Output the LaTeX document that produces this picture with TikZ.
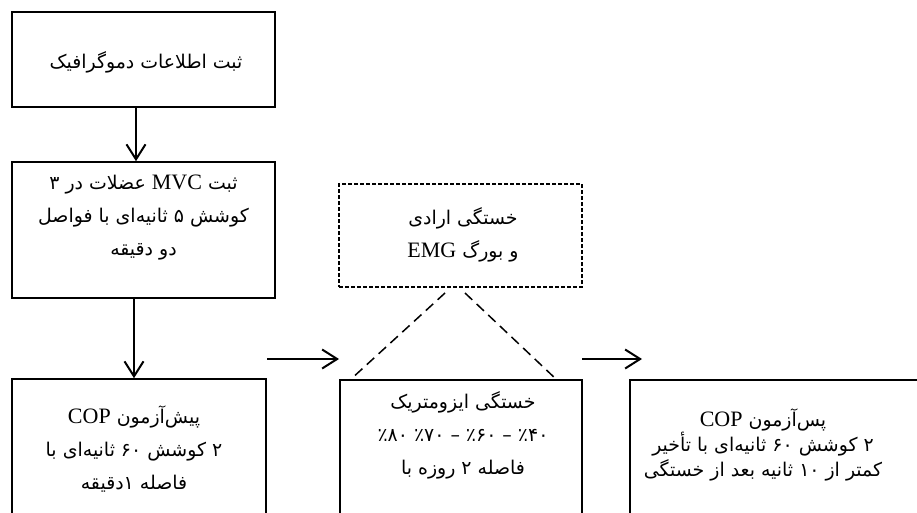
\documentclass[tikz,border=0pt]{standalone}
\usepackage{fontspec}
\setmainfont{Liberation Serif}
\newfontfamily\fafont[Script=Arabic,Scale=0.86]{DejaVu Sans}
\TeXXeTstate=1
\usetikzlibrary{arrows.meta}
\newcommand{\fa}[1]{{\fafont\beginR #1\endR}}

\begin{document}
\begin{tikzpicture}[x=1pt,y=-1pt, >={Straight Barb[length=15pt,width=19pt]},
  box/.style={draw, line width=1.6pt, inner sep=0pt},
  dbox/.style={draw, line width=1.3pt, dash pattern=on 4pt off 2pt, inner sep=0pt},
  txt/.style={align=center, inner sep=0pt, font=\fontsize{22}{33}\selectfont},
  arr/.style={->, line width=2pt},
  roof/.style={line width=1.5pt, dash pattern=on 10pt off 6pt}]
\useasboundingbox (0,0) rectangle (917,512);
\fill[white] (0,0) rectangle (917,512);
\clip (0,0) rectangle (917,512);

% left column
\node (demo) at (143.5,59.5) [box, minimum width=263pt, minimum height=95pt] {};
\node (demotext) at (146,62) [txt] {\fa{ثبت اطلاعات دموگرافیک}};
\node (mvc) at (143.5,230) [box, minimum width=263pt, minimum height=136pt] {};
\node (mvctext) at (143.5,218) [txt] {\fa{ثبت {\rmfamily MVC} عضلات در ۳}\\
  \fa{کوشش ۵ ثانیه‌ای با فواصل}\\ \fa{دو دقیقه}};
\node (pre) at (139,455) [box, minimum width=254pt, minimum height=152pt] {};
\node (pretext) at (134,449) [txt] {\fa{پیش‌آزمون {\rmfamily COP}}\\
  \fa{۲ کوشش ۶۰ ثانیه‌ای با}\\ \fa{فاصله ۱دقیقه}};

% middle column
\node (emg) at (460.5,235.5) [dbox, minimum width=243pt, minimum height=103pt] {};
\node (emgtext) at (463,235) [txt] {\fa{خستگی ارادی}\\ \fa{و بورگ {\rmfamily EMG}}};
\node (iso) at (461,455) [box, minimum width=242pt, minimum height=150pt] {};
\node (isotext) at (463,435) [txt] {\fa{خستگی ایزومتریک}\\
  \fa{٪۴۰ – ٪۶۰ – ٪۷۰ ٪۸۰}\\ \fa{فاصله ۲ روزه با}};

% right column
\node (post) at (790,455) [box, minimum width=320pt, minimum height=150pt] {};
\node (posttext) at (763,445) [txt, font=\fontsize{22}{25}\selectfont] {\fa{پس‌آزمون {\rmfamily COP}}\\
  \fa{۲ کوشش ۶۰ ثانیه‌ای با تأخیر}\\ \fa{کمتر از ۱۰ ثانیه بعد از خستگی}};

\coordinate (c1) at (136,0);
\coordinate (a1) at (267,359);
\coordinate (b1) at (339,359);
\coordinate (a2) at (582,359);
\coordinate (b2) at (642,359);
\coordinate (rl) at (445,293);
\coordinate (rr) at (465,293);
\coordinate (il) at (350,380);
\coordinate (ir) at (557,380);

\draw[arr] (demo.south -| c1) -- (mvc.north -| c1);
\draw[arr] (mvc.south -| pretext) -- (pre.north -| pretext);
\draw[arr] (a1) -- (b1);
\draw[arr] (a2) -- (b2);
\draw[roof] (rl) -- (il);
\draw[roof] (rr) -- (ir);
\end{tikzpicture}
\end{document}
